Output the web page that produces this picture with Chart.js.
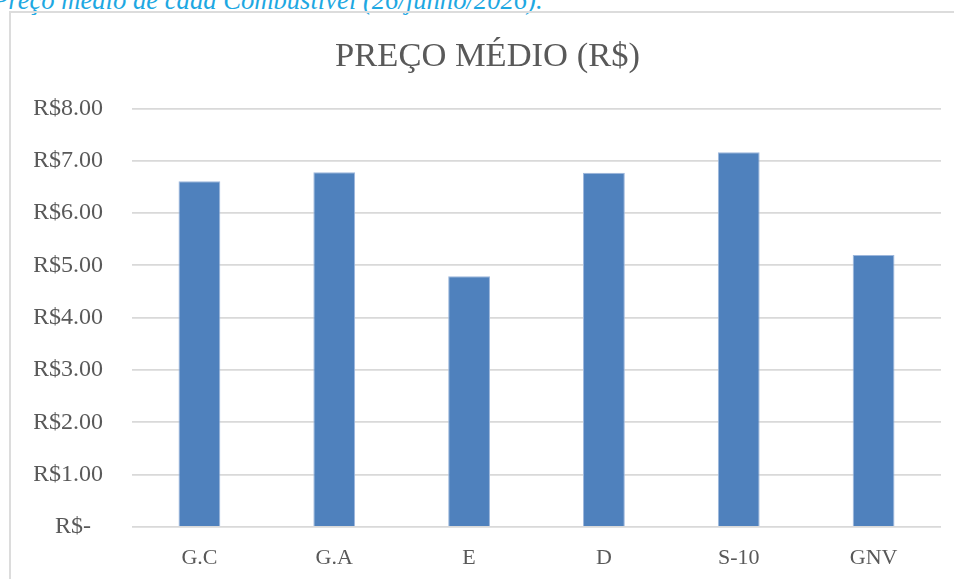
<!DOCTYPE html>
<html>
<head>
<meta charset="utf-8">
<script src="https://cdn.jsdelivr.net/npm/chart.js@4/dist/chart.umd.min.js"></script>
<style>
    html, body{margin:0; padding:0; background:#fff; overflow:hidden;}
    body{width:954px; height:579px; position:relative;}
    #caption{
        position:absolute; left:-8px; top:-13px; white-space:nowrap;
        font-family:"Liberation Serif", serif; font-style:italic;
        font-size:24px; line-height:1; color:#1ea8e2;
    }
    #box{
        position:absolute; left:9px; top:11px; width:945px; height:568px;
        border-left:2px solid #dcdcdc; border-top:2px solid #dcdcdc;
    }
    #box canvas{display:block;}
</style>
</head>
<body>
<div id="caption">Preço médio de cada Combustível (26/junho/2026).</div>
<div id="box"><canvas id="precoChart" width="943" height="566"></canvas></div>
<script>
const categories=['G.C', 'G.A', 'E', 'D', 'S-10', 'GNV'];
const precoMedio=[6.61, 6.78, 4.79, 6.77, 7.16, 5.20];
const yTicks=[0, 1, 2, 3, 4, 5, 6, 7, 8];

document.addEventListener('DOMContentLoaded', ()=>{
    // fit the caption to the width it has in the picture
    const cap=document.getElementById('caption');
    const w=cap.getBoundingClientRect().width;
    cap.style.fontSize=(24*551/w).toFixed(2)+'px';

    const textColor='#595959';
    const serif='"Liberation Serif", "DejaVu Serif", serif';
    const ctx=document.getElementById('precoChart').getContext('2d');
    new Chart(ctx,{
        type: 'bar',
        data: {
            labels: categories,
            datasets: [{
                label: 'Preço médio',
                data: precoMedio,
                backgroundColor: '#4f81bd',
                borderColor: '#9db7dc',
                borderWidth: 1,
                barPercentage: 0.31,
                categoryPercentage: 1
            }]
        },
        options: {
            responsive: false,
            animation: false,
            layout: {padding: {left: 23, right: 13, top: 0, bottom: 0}},
            plugins: {
                legend: {display: false},
                tooltip: {enabled: false},
                title: {
                    display: true,
                    text: 'PREÇO MÉDIO (R$)',
                    color: textColor,
                    font: {family: serif, size: 34.5, weight: 'normal', lineHeight: 1.2},
                    padding: {top: 23, bottom: 31}
                }
            },
            scales: {
                x: {
                    grid: {display: false, drawTicks: false},
                    border: {display: false},
                    ticks: {
                        color: textColor,
                        padding: 18,
                        font: {family: serif, size: 22}
                    },
                    afterFit: s=>{ s.height=52; }
                },
                y: {
                    min: 0,
                    max: 8,
                    afterBuildTicks: s=>{ s.ticks=yTicks.map(v=>({value: v})); },
                    grid: {color: '#d9d9d9', lineWidth: 1.8, drawTicks: false},
                    border: {display: false},
                    ticks: {
                        color: textColor,
                        padding: 29,
                        font: {family: serif, size: 24},
                        callback: v=>v===0 ? 'R$-\u2002' : 'R$'+Number(v).toFixed(2)
                    },
                    afterFit: s=>{ s.width=98; }
                }
            }
        }
    });
});
</script>
</body>
</html>
